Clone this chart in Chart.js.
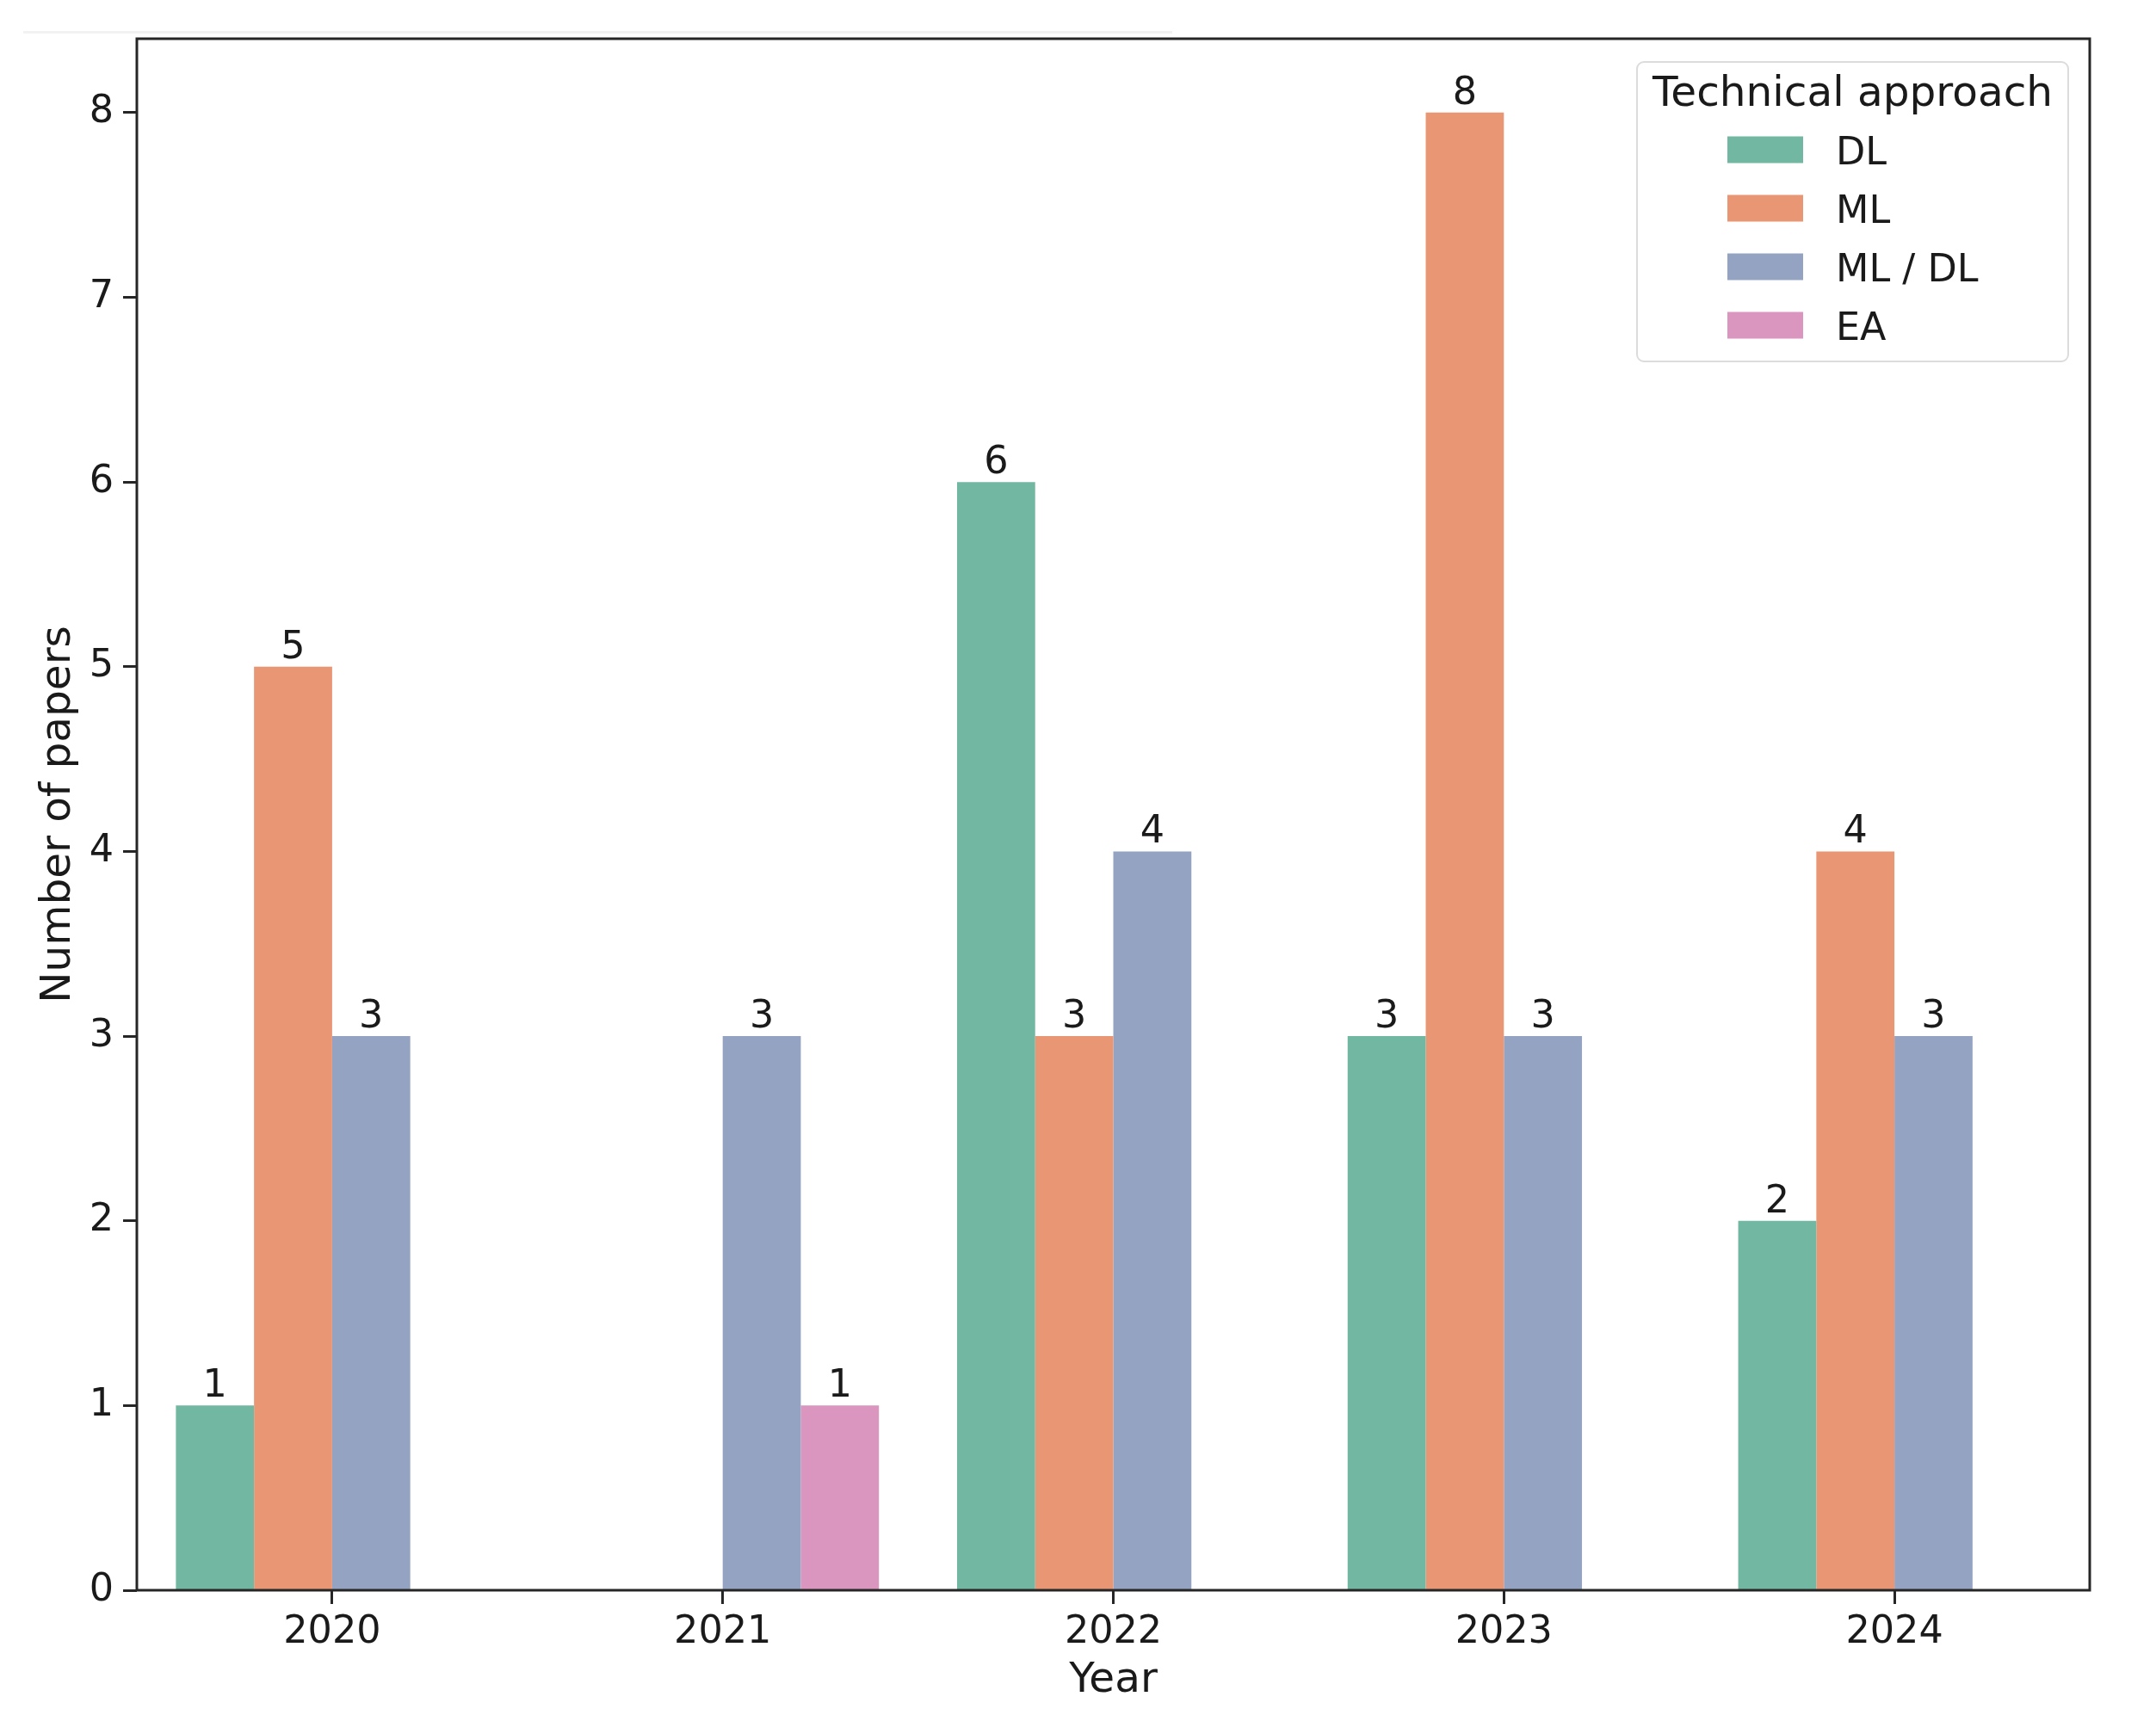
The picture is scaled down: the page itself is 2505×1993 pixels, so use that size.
<!DOCTYPE html>
<html><head><meta charset="utf-8">
<script src="https://cdn.jsdelivr.net/npm/chart.js@4"></script>
<style>html,body{margin:0;padding:0;background:#fff;}canvas{display:block;}</style>
</head><body>
<canvas id="c" width="2505" height="1993"></canvas>
<script>
const years = ['2020', '2021', '2022', '2023', '2024'];
const seriesNames = ['DL', 'ML', 'ML / DL', 'EA'];
const dlValues = [1, null, 6, 3, 2];
const mlValues = [5, null, 3, 8, 4];
const mldlValues = [3, 3, 4, 3, 3];
const eaValues = [null, 1, null, null, null];
const yTickValues = [0, 1, 2, 3, 4, 5, 6, 7, 8];
const seriesColors = ['#72b7a1', '#e99675', '#95a3c3', '#db96c0'];
const legendTitle = 'Technical approach';
const xTitle = 'Year';
const yTitle = 'Number of papers';

const FAM = '"DejaVu Sans", sans-serif';
const TXT = '#1a1a1a';
const AX = '#262626';
const SMALL = 44.5;
const BIG = 48.5;

const seriesValues = [dlValues, mlValues, mldlValues, eaValues];

const framePlugin = {
  id: 'frame',
  beforeDraw(chart) {
    const ctx = chart.ctx;
    ctx.save();
    ctx.strokeStyle = '#f2f2f2';
    ctx.lineWidth = 3;
    ctx.beginPath(); ctx.moveTo(27, 37.5); ctx.lineTo(1362, 37.5); ctx.stroke();
    ctx.restore();
  },
  afterDatasetsDraw(chart) {
    const {ctx, chartArea: a} = chart;
    ctx.save();
    ctx.strokeStyle = AX;
    ctx.lineWidth = 3;
    ctx.strokeRect(a.left, a.top, a.right - a.left, a.bottom - a.top);
    ctx.fillStyle = TXT;
    ctx.font = SMALL + 'px ' + FAM;
    ctx.textAlign = 'center';
    ctx.textBaseline = 'alphabetic';
    chart.data.datasets.forEach((ds, i) => {
      const meta = chart.getDatasetMeta(i);
      meta.data.forEach((el, j) => {
        const v = ds.data[j];
        if (v === null || v === undefined) return;
        ctx.fillText(String(v), el.x, el.y - 10);
      });
    });
    ctx.restore();
  },
  afterDraw(chart) {
    const ctx = chart.ctx;
    ctx.save();
    const bx = 1902, by = 72, bw = 501, bh = 348, r = 8;
    ctx.beginPath();
    ctx.moveTo(bx + r, by);
    ctx.arcTo(bx + bw, by, bx + bw, by + bh, r);
    ctx.arcTo(bx + bw, by + bh, bx, by + bh, r);
    ctx.arcTo(bx, by + bh, bx, by, r);
    ctx.arcTo(bx, by, bx + bw, by, r);
    ctx.closePath();
    ctx.fillStyle = 'rgba(255,255,255,0.85)';
    ctx.fill();
    ctx.strokeStyle = '#dcdcdc';
    ctx.lineWidth = 2;
    ctx.stroke();
    ctx.fillStyle = TXT;
    ctx.font = BIG + 'px ' + FAM;
    ctx.textAlign = 'center';
    ctx.textBaseline = 'alphabetic';
    ctx.fillText(legendTitle, bx + bw / 2, 123);
    ctx.font = SMALL + 'px ' + FAM;
    ctx.textAlign = 'left';
    chart.data.datasets.forEach((ds, i) => {
      const cy = 174 + i * 68;
      ctx.fillStyle = ds.backgroundColor;
      ctx.fillRect(2007, cy - 15.5, 88, 31);
      ctx.fillStyle = TXT;
      ctx.fillText(ds.label, 2133, cy + 16.5);
    });
    ctx.restore();
  }
};

new Chart(document.getElementById('c'), {
  type: 'bar',
  data: {
    labels: years,
    datasets: seriesNames.map((name, i) => ({
      label: name,
      data: seriesValues[i],
      backgroundColor: seriesColors[i],
      borderWidth: 0,
      categoryPercentage: 0.8,
      barPercentage: 1.0
    }))
  },
  options: {
    responsive: false,
    devicePixelRatio: 1,
    animation: false,
    layout: {padding: {top: 45, right: 77, left: 0, bottom: 0}},
    plugins: {legend: {display: false}, tooltip: {enabled: false}},
    scales: {
      x: {
        ticks: {font: {family: FAM, size: SMALL}, color: TXT, padding: 7, maxRotation: 0},
        grid: {display: true, drawOnChartArea: false, drawTicks: true, tickLength: 16, tickWidth: 3, tickColor: AX, offset: false},
        border: {display: false},
        title: {display: true, text: xTitle, font: {family: FAM, size: BIG, lineHeight: 1.2}, color: TXT, padding: {top: 0, bottom: 10}},
        afterFit(s) { s.height = 145; }
      },
      y: {
        min: 0, max: 8.4,
        afterBuildTicks(s) { s.ticks = yTickValues.map(v => ({value: v})); },
        ticks: {font: {family: FAM, size: SMALL}, color: TXT, padding: 11, callback: v => String(v)},
        grid: {display: true, drawOnChartArea: false, drawTicks: true, tickLength: 16, tickWidth: 3, tickColor: AX},
        border: {display: false},
        title: {display: true, text: yTitle, font: {family: FAM, size: BIG, lineHeight: 1.2}, color: TXT, padding: {top: 39, bottom: 0}},
        afterFit(s) { s.width = 159; }
      }
    }
  },
  plugins: [framePlugin]
});
</script>
</body></html>
